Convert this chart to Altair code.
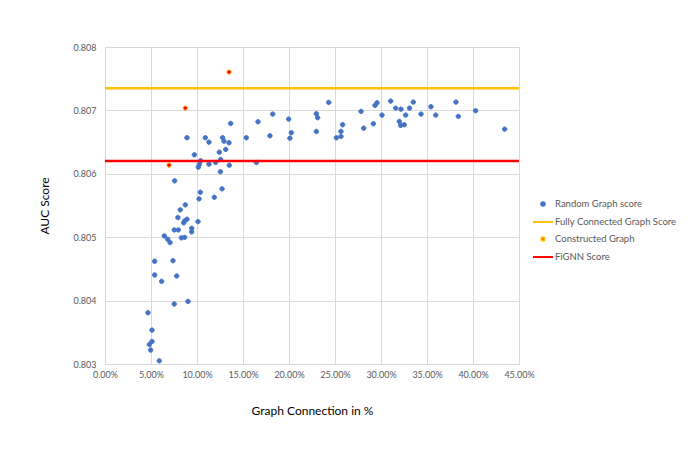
import altair as alt
import pandas as pd

# ---- data ----
series_names = ["Random Graph score", "Fully Connected Graph Score", "Constructed Graph", "FiGNN Score"]

random_conn_pct = [
    13.66, 16.63, 18.23, 19.96, 20.25, 20.10, 8.91, 10.90, 11.30, 12.79,
    12.93, 13.48, 15.36, 17.93, 12.43, 13.12, 9.71, 10.40, 12.57, 12.03,
    11.30, 10.25, 10.14, 13.51, 16.45, 12.54, 7.57, 10.36, 12.72, 10.22,
    11.88, 8.73, 8.18, 7.93, 8.91, 8.66, 8.55, 10.11, 7.53, 7.97,
    9.42, 9.42, 6.45, 6.82, 7.07, 8.30, 8.66, 5.40, 7.39, 5.40,
    7.79, 6.16, 7.53, 9.02, 4.67, 5.11, 5.11, 4.82, 4.96, 5.90,
    24.32, 27.83, 29.35, 29.57, 30.11, 31.05, 31.59, 32.17, 32.68, 33.10,
    33.51, 31.99, 32.14, 32.53, 34.35, 35.43, 35.95, 29.17, 28.12, 25.83,
    25.65, 25.65, 25.15, 22.97, 23.11, 22.97, 38.15, 38.40, 40.29, 43.44,
]
random_auc = [
    0.806795, 0.806821, 0.806942, 0.806863, 0.806648, 0.806562, 0.806569, 0.806569, 0.806499, 0.806569,
    0.806515, 0.806490, 0.806569, 0.806600, 0.806341, 0.806384, 0.806300, 0.806205, 0.806226, 0.806179,
    0.806152, 0.806147, 0.806104, 0.806136, 0.806179, 0.806032, 0.805889, 0.805709, 0.805763, 0.805605,
    0.805630, 0.805510, 0.805431, 0.805310, 0.805283, 0.805258, 0.805226, 0.805246, 0.805115, 0.805115,
    0.805140, 0.805084, 0.805020, 0.804967, 0.804915, 0.804990, 0.804998, 0.804620, 0.804630, 0.804404,
    0.804389, 0.804304, 0.803946, 0.803987, 0.803809, 0.803535, 0.803355, 0.803308, 0.803220, 0.803050,
    0.807126, 0.806984, 0.807079, 0.807121, 0.806926, 0.807147, 0.807036, 0.807020, 0.806926, 0.807036,
    0.807131, 0.806826, 0.806763, 0.806774, 0.806942, 0.807058, 0.806926, 0.806790, 0.806720, 0.806774,
    0.806668, 0.806589, 0.806568, 0.806948, 0.806885, 0.806668, 0.807131, 0.806905, 0.806995, 0.806705,
]
constructed_conn_pct = [13.48, 8.73, 6.96]
constructed_auc = [0.807605, 0.807036, 0.806136]
fully_connected_auc = 0.80735
fignn_auc = 0.80620

x_ticks = [0.0, 0.05, 0.10, 0.15, 0.20, 0.25, 0.30, 0.35, 0.40, 0.45]
y_ticks = [0.803, 0.804, 0.805, 0.806, 0.807, 0.808]

# ---- tables ----
pts = pd.DataFrame({
    "conn": [v / 100 for v in random_conn_pct] + [v / 100 for v in constructed_conn_pct],
    "auc": random_auc + constructed_auc,
    "series": [series_names[0]] * len(random_auc) + [series_names[2]] * len(constructed_auc),
})
rules = pd.DataFrame({
    "auc": [fully_connected_auc, fignn_auc],
    "series": [series_names[1], series_names[3]],
})

FONT = "Lato"
circle_path = "M0.22,0A0.22,0.22 0 1,1 -0.22,0A0.22,0.22 0 1,1 0.22,0Z"
line_path = "M-1.25,0L1.25,0"

legend = alt.Legend(
    title=None, orient="none", legendX=429, legendY=148,
    symbolSize=256, symbolStrokeWidth=2, labelFont=FONT, labelFontSize=9.5,
    labelColor="#595959", labelOffset=3, rowPadding=3, padding=0, labelLimit=200,
)
fill_scale = alt.Scale(domain=series_names, range=["#4472C4", "#FFC000", "#FF0000", "#FF0000"])
stroke_scale = alt.Scale(domain=series_names, range=["#4472C4", "#FFC000", "#FFC000", "#FF0000"])
shape_scale = alt.Scale(domain=series_names, range=[circle_path, line_path, circle_path, line_path])

x_enc = alt.X("conn:Q", scale=alt.Scale(domain=[0, 0.45], nice=False),
              axis=alt.Axis(values=x_ticks, format=".2%", title="Graph Connection in %",
                            labelPadding=6, titlePadding=26, labelFlush=False))
y_enc = alt.Y("auc:Q", scale=alt.Scale(domain=[0.803, 0.808], nice=False, zero=False),
              axis=alt.Axis(values=y_ticks, format=".3f", title="AUC Score",
                            labelPadding=9, titlePadding=21))

points_random = alt.Chart(pts).transform_filter(
    alt.datum.series == series_names[0]
).mark_point(filled=True, opacity=1, strokeWidth=1, size=400).encode(
    x=x_enc, y=y_enc,
    fill=alt.Fill("series:N", scale=fill_scale, legend=legend),
    stroke=alt.Stroke("series:N", scale=stroke_scale, legend=legend),
    shape=alt.Shape("series:N", scale=shape_scale, legend=legend),
)
points_constructed = alt.Chart(pts).transform_filter(
    alt.datum.series == series_names[2]
).mark_point(filled=True, opacity=1, strokeWidth=1, size=380).encode(
    x=x_enc, y=y_enc,
    fill=alt.Fill("series:N", scale=fill_scale, legend=legend),
    stroke=alt.Stroke("series:N", scale=stroke_scale, legend=legend),
    shape=alt.Shape("series:N", scale=shape_scale, legend=legend),
)
rule_fc = alt.Chart(rules).transform_filter(
    alt.datum.series == series_names[1]
).mark_rule(strokeWidth=2.5).encode(
    y=y_enc, stroke=alt.Stroke("series:N", scale=stroke_scale, legend=legend),
)
rule_fignn = alt.Chart(rules).transform_filter(
    alt.datum.series == series_names[3]
).mark_rule(strokeWidth=2.5).encode(
    y=y_enc, stroke=alt.Stroke("series:N", scale=stroke_scale, legend=legend),
)

chart = alt.layer(points_random, rule_fc, points_constructed, rule_fignn).properties(
    width=414, height=317,
    autosize=alt.AutoSizeParams(type="none"),
    padding={"left": 97, "top": 39, "right": 161, "bottom": 83},
    background="white",
).configure_view(stroke="#D9D9D9").configure_axis(
    grid=True, gridColor="#D9D9D9", domainColor="#D9D9D9", ticks=False,
    labelFont=FONT, labelFontSize=9, labelColor="#595959",
    titleFont=FONT, titleFontSize=12, titleFontWeight="normal", titleColor="#000000",
)

chart.save("out.html", embed_options={"renderer": "svg", "actions": False})
